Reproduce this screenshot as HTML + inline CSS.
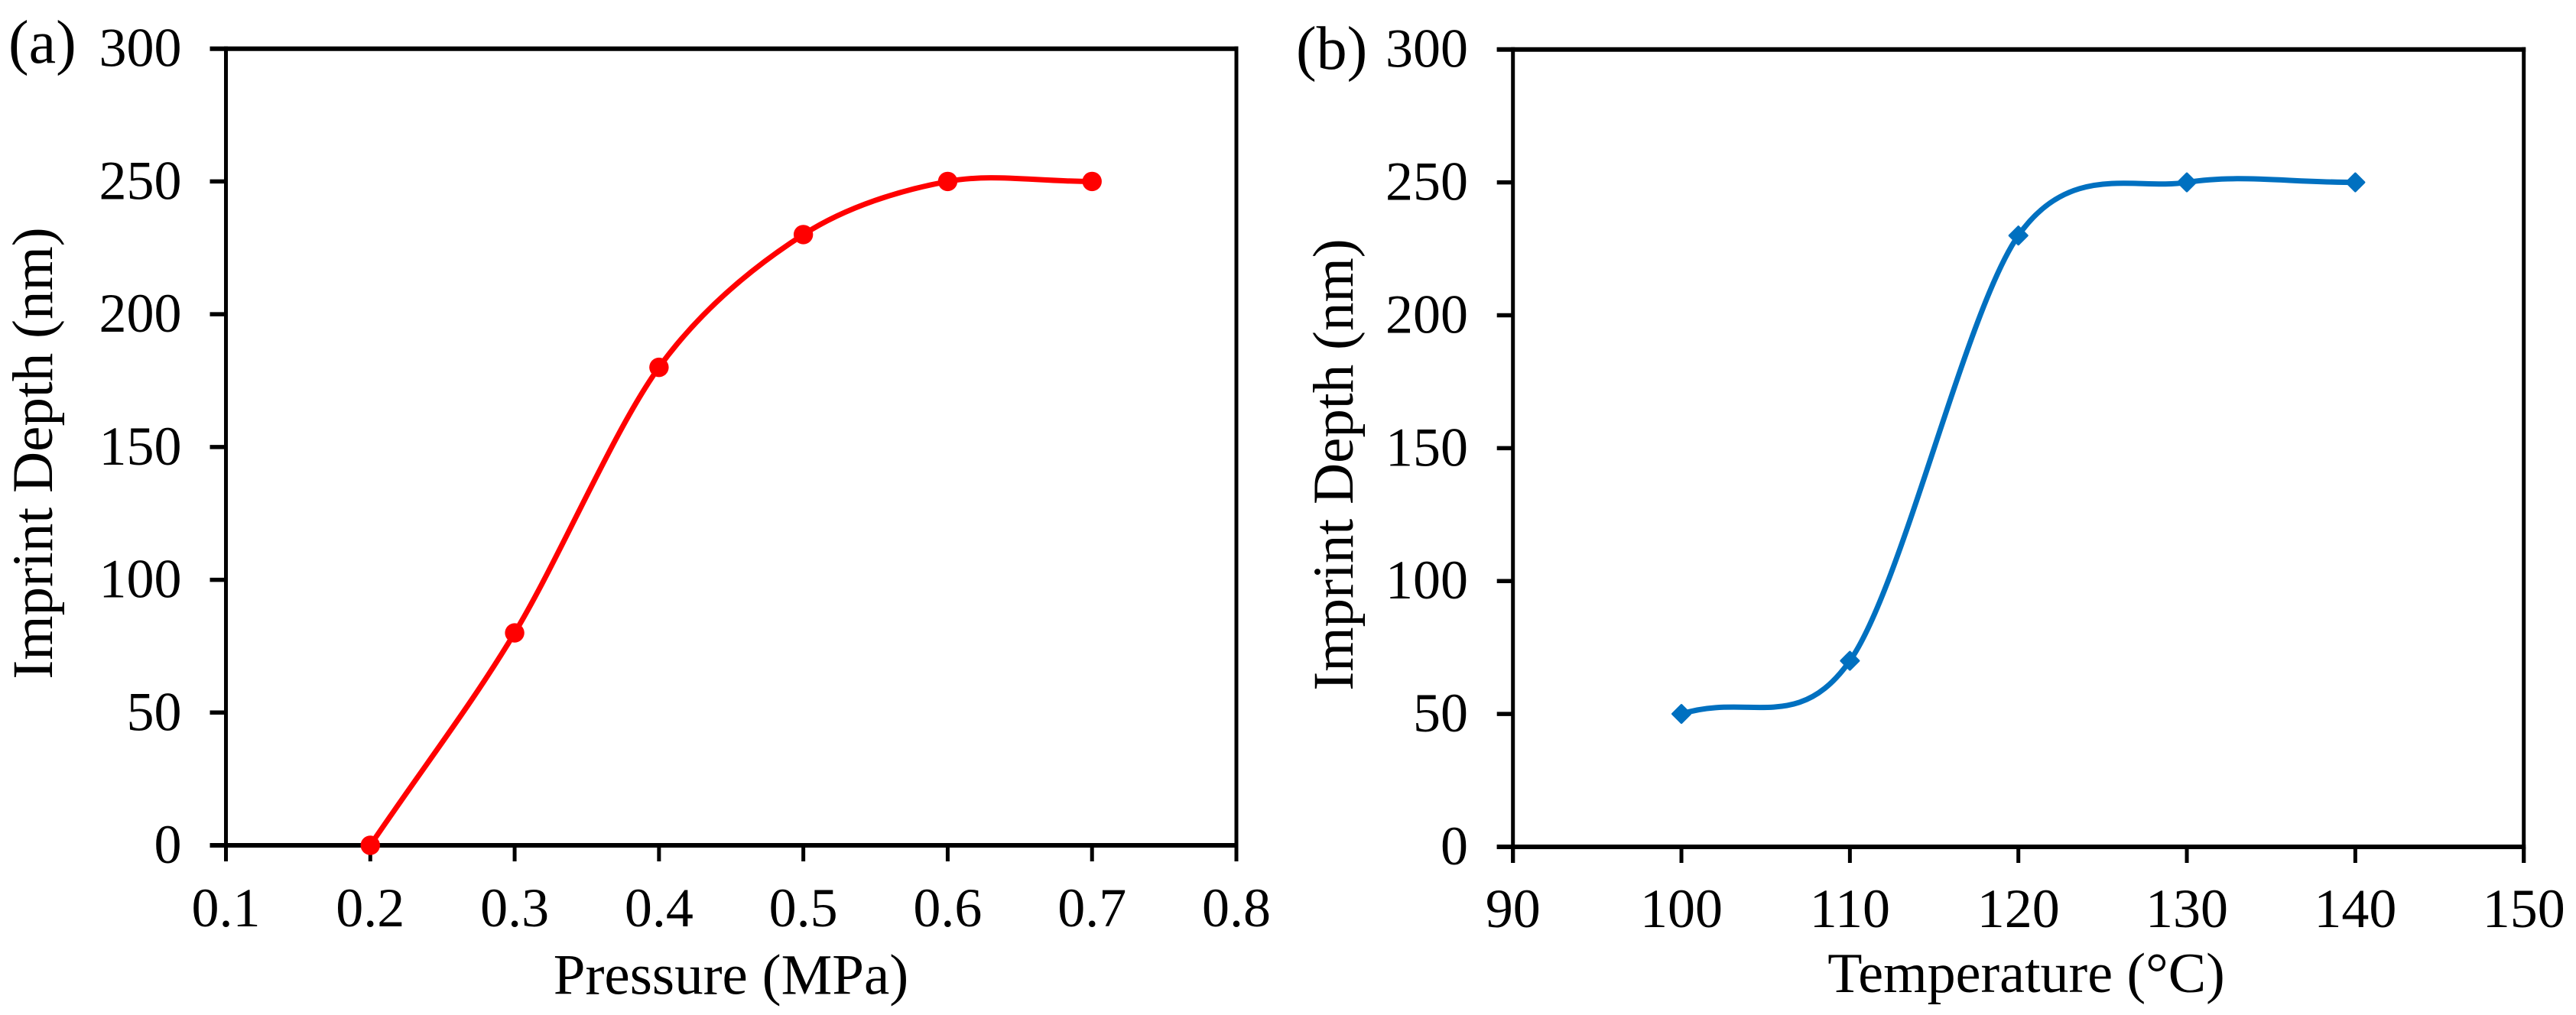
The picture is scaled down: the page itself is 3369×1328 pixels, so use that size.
<!DOCTYPE html>
<html>
<head>
<meta charset="utf-8">
<title>Imprint Depth vs Pressure and Temperature</title>
<style>
html,body{margin:0;padding:0;background:#fff;}
svg{display:block;}
text{font-family:"Liberation Serif","Times New Roman",serif;fill:#000;}
</style>
</head>
<body>
<svg id="figure" width="3369" height="1328" viewBox="0 0 3369 1328" xmlns="http://www.w3.org/2000/svg">
<rect x="0" y="0" width="3369" height="1328" fill="#fff"/>
<text x="11" y="82" font-size="80">(a)</text>
<text x="1695" y="90" font-size="80">(b)</text>
<text x="956" y="1300.5" font-size="75" text-anchor="middle">Pressure (MPa)</text>
<text x="2650" y="1298" font-size="74" text-anchor="middle">Temperature (°C)</text>
<text transform="translate(68 593) rotate(-90)" font-size="75" text-anchor="middle">Imprint Depth (nm)</text>
<text transform="translate(1769 608) rotate(-90)" font-size="75" text-anchor="middle">Imprint Depth (nm)</text>
</svg>
<script>
const yTickValues = [0, 50, 100, 150, 200, 250, 300];
const pressureTicks = [0.1, 0.2, 0.3, 0.4, 0.5, 0.6, 0.7, 0.8];
const pressureCategories = [0.2, 0.3, 0.4, 0.5, 0.6, 0.7];
const pressureDepths = [0, 80, 180, 230, 250, 250];
const temperatureTicks = [90, 100, 110, 120, 130, 140, 150];
const temperatureCategories = [100, 110, 120, 130, 140];
const temperatureDepths = [50, 70, 230, 250, 250];

const SVG_NS = 'http://www.w3.org/2000/svg';
const figure = document.getElementById('figure');

function addShape(tag, attrs, name) {
  const el = document.createElementNS(SVG_NS, tag);
  for (const k in attrs) el.setAttribute(k, attrs[k]);
  
  
  figure.appendChild(el);
  return el;
}

function smoothPath(pts) {
  const last = pts.length - 1;
  const interiorFactor = 0.155;
  const endFactor = 0.4;
  let d = 'M' + pts[0][0].toFixed(2) + ' ' + pts[0][1].toFixed(2);
  for (let i = 0; i < last; i++) {
    const p0 = pts[i];
    const p1 = pts[i + 1];
    let c1, c2;
    if (i === 0) {
      c1 = [p0[0] + (p1[0] - p0[0]) * endFactor, p0[1] + (p1[1] - p0[1]) * endFactor];
    } else {
      const prev = pts[i - 1];
      c1 = [p0[0] + (p1[0] - prev[0]) * interiorFactor, p0[1] + (p1[1] - prev[1]) * interiorFactor];
    }
    if (i === last - 1) {
      c2 = [p1[0] - (p1[0] - p0[0]) * endFactor, p1[1] - (p1[1] - p0[1]) * endFactor];
    } else {
      const next = pts[i + 2];
      c2 = [p1[0] - (next[0] - p0[0]) * interiorFactor, p1[1] - (next[1] - p0[1]) * interiorFactor];
    }
    d += 'C' + c1[0].toFixed(2) + ' ' + c1[1].toFixed(2) + ' ' + c2[0].toFixed(2) + ' ' + c2[1].toFixed(2) + ' ' + p1[0].toFixed(2) + ' ' + p1[1].toFixed(2);
  }
  return d;
}

function drawPanel(cfg) {
  const xAxis = v => cfg.left + (v - cfg.xMin) / (cfg.xMax - cfg.xMin) * (cfg.right - cfg.left);
  const yAxis = v => cfg.bottom - (v - 0) / 300 * (cfg.bottom - cfg.top);
  const tickLen = 21;
  const id = cfg.id;

  addShape('line', {x1: cfg.left, y1: cfg.top - 3, x2: cfg.left, y2: cfg.bottom + tickLen, stroke: '#000', 'stroke-width': 5}, id + '-left-axis');
  addShape('line', {x1: cfg.right, y1: cfg.top - 3, x2: cfg.right, y2: cfg.bottom + tickLen, stroke: '#000', 'stroke-width': 5}, id + '-right-axis');
  addShape('line', {x1: cfg.left - tickLen, y1: cfg.top, x2: cfg.right + 2.5, y2: cfg.top, stroke: '#000', 'stroke-width': 6}, id + '-top-axis');
  addShape('line', {x1: cfg.left - tickLen, y1: cfg.bottom, x2: cfg.right + 2.5, y2: cfg.bottom, stroke: '#000', 'stroke-width': 6}, id + '-bottom-axis');

  yTickValues.forEach(function (v) {
    const y = yAxis(v);
    addShape('line', {x1: cfg.left - tickLen, y1: y, x2: cfg.left, y2: y, stroke: '#000', 'stroke-width': 5.5}, id + '-y-tick-' + v);
    const t = addShape('text', {x: cfg.yLabelX, y: y + 23, 'font-size': 72, 'text-anchor': 'end'}, id + '-y-tick-label-' + v);
    t.textContent = String(v);
  });

  cfg.ticks.forEach(function (v) {
    const x = xAxis(v);
    addShape('line', {x1: x, y1: cfg.bottom, x2: x, y2: cfg.bottom + tickLen, stroke: '#000', 'stroke-width': 5}, id + '-x-tick-' + v);
    const t = addShape('text', {x: x, y: cfg.xLabelY, 'font-size': 72, 'text-anchor': 'middle'}, id + '-x-tick-label-' + v);
    t.textContent = cfg.format(v);
  });

  const pts = cfg.categories.map((c, i) => [xAxis(c), yAxis(cfg.values[i])]);
  addShape('path', {d: smoothPath(pts), fill: 'none', stroke: cfg.color, 'stroke-width': 7, 'stroke-linejoin': 'round'}, id + '-curve');

  pts.forEach(function (p, i) {
    const label = id + '-point-' + cfg.categories[i];
    if (cfg.marker === 'circle') {
      addShape('circle', {cx: p[0], cy: p[1], r: 12.7, fill: cfg.color}, label);
    } else {
      const s = 11.5;
      const corners = [[p[0], p[1] - s], [p[0] + s, p[1]], [p[0], p[1] + s], [p[0] - s, p[1]]];
      addShape('polygon', {points: corners.map(c => c[0] + ',' + c[1]).join(' '), fill: cfg.color, stroke: cfg.color, 'stroke-width': 3, 'stroke-linejoin': 'round'}, label);
    }
  });
}

drawPanel({
  id: 'panel-a', left: 295.5, right: 1617, top: 63.7, bottom: 1106,
  xMin: 0.1, xMax: 0.8, yLabelX: 237.5, xLabelY: 1212,
  ticks: pressureTicks, categories: pressureCategories, values: pressureDepths,
  format: v => v.toFixed(1), color: '#FF0000', marker: 'circle'
});

drawPanel({
  id: 'panel-b', left: 1978.7, right: 3300.7, top: 64.7, bottom: 1108,
  xMin: 90, xMax: 150, yLabelX: 1920, xLabelY: 1213,
  ticks: temperatureTicks, categories: temperatureCategories, values: temperatureDepths,
  format: v => String(v), color: '#0070C0', marker: 'diamond'
});
</script>
</body>
</html>
